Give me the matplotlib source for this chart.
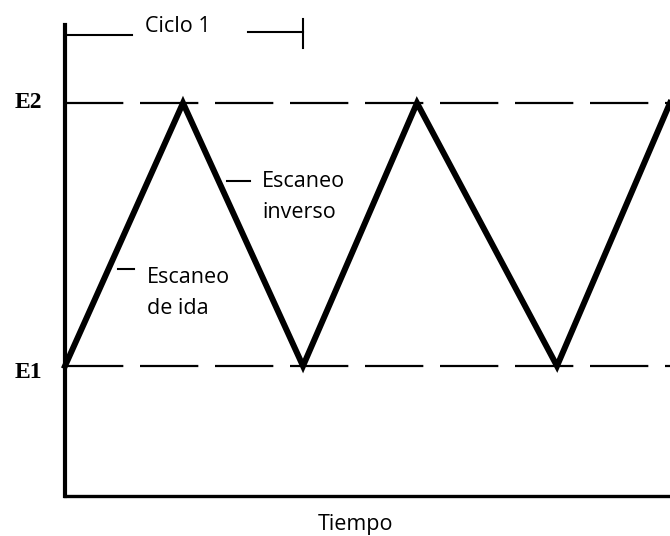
import matplotlib
matplotlib.use("Agg")
import matplotlib.pyplot as plt

plt.rcParams['lines.scale_dashes'] = False

# data (time in arbitrary units, potential normalised E1=0, E2=1)
t = [0.0, 1.18, 2.38, 3.52, 4.92, 6.05]
E = [0.0, 1.0, 0.0, 1.0, 0.0, 1.0]
levels = [0.0, 1.0]
level_labels = ["E1", "E2"]

fig = plt.figure(figsize=(6.7, 5.36), dpi=100)
ax = fig.add_axes([65/670, 1-496/536, 1-65/670, (496-25)/536])
ax.set_xlim(0, 6.05)
ax.set_ylim((366-496)/263, (366-25)/263)

for y in levels:
    ax.plot([0, 6.05], [y, y], color='black', lw=1.6, dashes=(42, 12))

ax.plot(t, E, color='black', lw=4.3, solid_joinstyle='miter', clip_on=False)

for s in ['top', 'right']:
    ax.spines[s].set_visible(False)
ax.spines['left'].set_linewidth(3)
ax.spines['bottom'].set_linewidth(2.4)
ax.set_xticks([])
ax.set_yticks([])

label_y = [-0.023, 1.0]
for y, lab in zip(label_y, level_labels):
    ax.text(-0.365, y, lab, ha='center', va='center', fontsize=17,
            fontweight='bold', family='Liberation Serif', clip_on=False)

FS = 15.5
FAM = 'Open Sans'
ax.text(2.53, -0.624, "Tiempo", ha='left', va='baseline', fontsize=FS,
        family=FAM, clip_on=False)

# Ciclo 1 bracket
ax.plot([0, 0.67], [1.259, 1.259], color='black', lw=1.5, clip_on=False)
ax.plot([1.83, 2.38], [1.27, 1.27], color='black', lw=1.5, clip_on=False)
ax.plot([2.38, 2.38], [1.32, 1.209], color='black', lw=1.5, clip_on=False)
ax.text(0.80, 1.27, "Ciclo 1", ha='left', va='baseline', fontsize=FS,
        family=FAM, clip_on=False)

# scan labels
ax.plot([1.62, 1.85], [0.703, 0.703], color='black', lw=1.5)
ax.text(1.97, 0.681, "Escaneo", ha='left', va='baseline', fontsize=FS, family=FAM)
ax.text(1.97, 0.563, "inverso", ha='left', va='baseline', fontsize=FS, family=FAM)
ax.plot([0.53, 0.69], [0.369, 0.369], color='black', lw=1.5)
ax.text(0.82, 0.316, "Escaneo", ha='left', va='baseline', fontsize=FS, family=FAM)
ax.text(0.82, 0.198, "de ida", ha='left', va='baseline', fontsize=FS, family=FAM)

fig.savefig("out.png", dpi=100)
